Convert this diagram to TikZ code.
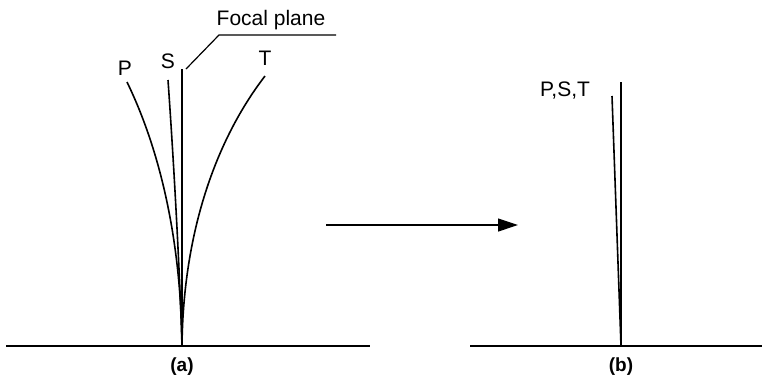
\documentclass[tikz,border=0pt]{standalone}
\usepackage{fontspec}
\setmainfont{Liberation Sans}
\usetikzlibrary{arrows.meta}
\begin{document}
\begin{tikzpicture}[x=1pt,y=-1pt,
  lbl/.style={inner sep=0pt,font=\fontsize{21}{21}\selectfont},
  captxt/.style={inner sep=0pt,font=\fontsize{19}{19}\selectfont\bfseries},
  ground/.style={line width=1.7pt},
  ray/.style={line width=1.6pt}]
\useasboundingbox (0,0) rectangle (766,381);
% (a)
\coordinate (ga1) at (6,346); \coordinate (ga2) at (370,346);
\draw[ground] (ga1) -- (ga2);
\coordinate (fa) at (182,346);
\coordinate (fatop) at (182,69);
\draw[ray] (fa) -- (fatop);
\coordinate (l1) at (186,69); \coordinate (l2) at (219,35); \coordinate (l3) at (336,35);
\draw[line width=1.2pt] (l1) -- (l2) -- (l3);
\node[lbl,anchor=base] (fp) at (271,25) {Focal plane};
\coordinate (pt) at (127,82);
\coordinate (st) at (168,80);
\coordinate (tt) at (265,76);
\draw[ray] (pt) .. controls (160,150) and (181,240) .. (fa);
\draw[ray] (st) .. controls (175,180) and (180,280) .. (fa);
\draw[ray] (tt) .. controls (212,145) and (183,240) .. (fa);
\node[lbl] (P) at (125,68) {P};
\node[lbl] (S) at (168,61) {S};
\node[lbl] (T) at (265,58) {T};
\node[captxt] (ca) at (182,367) {(a)};
% arrow
\coordinate (a1) at (326,225); \coordinate (a2) at (518,225);
\draw[line width=1.2pt,-{Triangle[length=20pt,width=13pt]}] (a1) -- (a2);
% (b)
\coordinate (gb1) at (470,346); \coordinate (gb2) at (762,346);
\draw[ground] (gb1) -- (gb2);
\coordinate (fb) at (621,346);
\coordinate (fbtop) at (621,82);
\coordinate (sb) at (612,96);
\draw[ray] (fb) -- (fbtop);
\draw[ray] (fb) -- (sb);
\node[lbl] (pst) at (565,91) {P,S,T};
\node[captxt] (cb) at (621,367) {(b)};
\end{tikzpicture}
\end{document}
